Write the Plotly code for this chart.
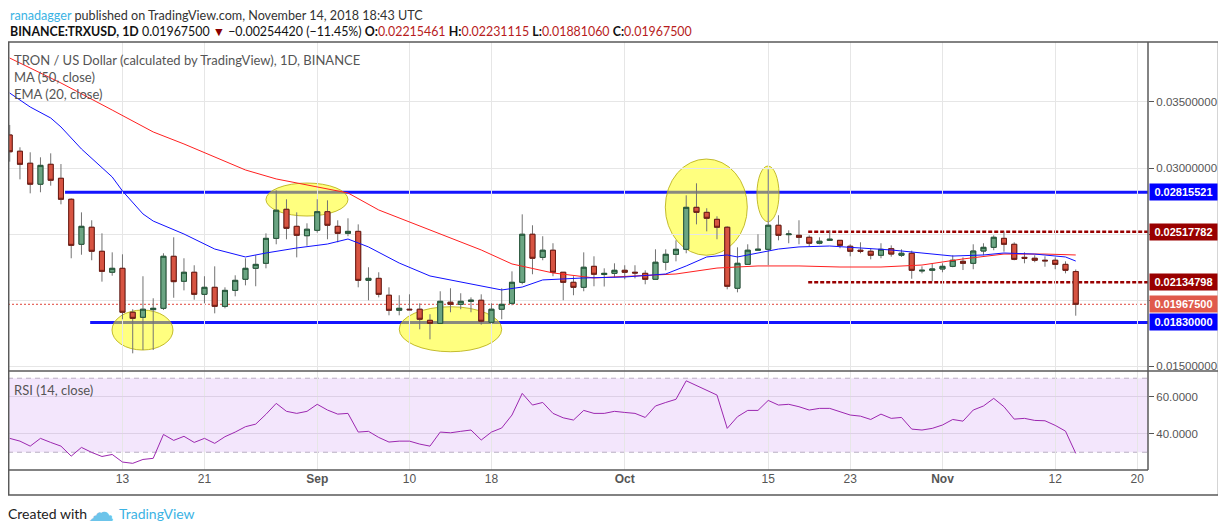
import pandas as pd
import plotly.graph_objects as go

# daily candles, 2 Aug -> 14 Nov 2018
dates = pd.date_range("2018-08-02", "2018-11-14", freq="D")

opens = [
    .03250, .03127, .03036, .02877, .03028, .02922, .02763, .02422, .02551, .02369,
    .02210, .02240, .01907, .01869, .01927, .01937, .02331, .02142, .02210, .02043,
    .02096, .01952, .02073, .02157, .02240, .02278, .02467, .02687, .02558, .02487,
    .02528, .02669, .02558, .02505, .02520, .02149, .02164, .02036, .01922, .01930,
    .01930, .01846, .01823, .01983, .01967, .01990, .01998, .01831, .01930, .01975,
    .02134, .02498, .02323, .02377, .02210, .02134, .02096, .02255, .02193, .02202,
    .02225, .02210, .02202, .02157, .02286, .02346, .02384, .02702, .02664, .02611,
    .02551, .02089, .02270, .02377, .02384, .02566, .02495, .02490, .02475, .02430,
    .02452, .02452, .02407, .02377, .02369, .02339, .02389, .02339, .02354, .02220,
    .02225, .02235, .02255, .02293, .02278, .02371, .02399, .02467, .02422, .02323,
    .02316, .02301, .02301, .02270, .02215461]
highs = [
    .03326, .03157, .03119, .03081, .03111, .03030, .02770, .02664, .02604, .02505,
    .02361, .02346, .01930, .02180, .02013, .02354, .02475, .02316, .02263, .02180,
    .02255, .02096, .02187, .02316, .02339, .02505, .02831, .02763, .02664, .02581,
    .02763, .02755, .02604, .02619, .02573, .02248, .02210, .02096, .02036, .02043,
    .01975, .01892, .02066, .02089, .02051, .02020, .02043, .01975, .02089, .02217,
    .02649, .02566, .02483, .02430, .02210, .02180, .02361, .02331, .02240, .02278,
    .02263, .02263, .02225, .02384, .02384, .02452, .02793, .02884, .02695, .02634,
    .02558, .02399, .02422, .02498, .02990, .02642, .02528, .02604, .02490, .02475,
    .02528, .02452, .02422, .02437, .02392, .02430, .02414, .02384, .02374, .02255,
    .02278, .02278, .02339, .02323, .02422, .02430, .02490, .02517, .02437, .02361,
    .02339, .02331, .02323, .02293, .02231115]
lows = [
    .03048, .02914, .02808, .02816, .02866, .02725, .02316, .02343, .02301, .02139,
    .02184, .01854, .01596, .01621, .01621, .01924, .02017, .02073, .02002, .01975,
    .01899, .01937, .02028, .02111, .02104, .02240, .02422, .02460, .02323, .02411,
    .02510, .02460, .02437, .02483, .02096, .01998, .02020, .01884, .01884, .01924,
    .01778, .01702, .01823, .01907, .01930, .01907, .01813, .01831, .01854, .01960,
    .02119, .02195, .02301, .02180, .01998, .02036, .02066, .02104, .02102, .02172,
    .02157, .02164, .02119, .02157, .02225, .02293, .02354, .02573, .02520, .02460,
    .02081, .02058, .02270, .02377, .02265, .02452, .02430, .02422, .02407, .02422,
    .02452, .02392, .02331, .02354, .02308, .02316, .02328, .02326, .02161, .02202,
    .02142, .02210, .02248, .02227, .02233, .02339, .02377, .02366, .02301, .02278,
    .02286, .02252, .02233, .02202, .0188106]
closes = [
    .03123, .03028, .02877, .03020, .02907, .02763, .02414, .02558, .02369, .02217,
    .02240, .01907, .01861, .01930, .01937, .02331, .02139, .02210, .02043, .02096,
    .01952, .02073, .02149, .02240, .02270, .02467, .02680, .02543, .02490, .02536,
    .02669, .02566, .02505, .02520, .02149, .02164, .02043, .01922, .01937, .01926,
    .01854, .01823, .01990, .01967, .01990, .01998, .01839, .01930, .01967, .02134,
    .02498, .02316, .02377, .02210, .02134, .02096, .02248, .02195, .02202, .02225,
    .02210, .02205, .02157, .02286, .02346, .02384, .02702, .02664, .02619, .02551,
    .02104, .02278, .02377, .02384, .02566, .02490, .02500, .02475, .02430, .02445,
    .02460, .02414, .02369, .02369, .02339, .02384, .02348, .02354, .02225, .02225,
    .02235, .02255, .02301, .02278, .02371, .02399, .02475, .02422, .02308, .02316,
    .02301, .02297, .02270, .02225, .019675]

rsi = [
    37.5, 36.0, 33.3, 37.5, 35.3, 33.3, 27.9, 32.6, 29.9, 27.7,
    28.8, 24.7, 24.0, 26.1, 26.7, 39.6, 36.4, 38.6, 35.3, 37.5,
    34.8, 38.4, 40.9, 43.8, 45.2, 50.5, 56.4, 52.1, 51.0, 52.1,
    55.9, 52.8, 50.6, 51.0, 40.9, 41.3, 38.0, 35.5, 36.0, 36.0,
    34.4, 33.3, 40.9, 40.5, 41.3, 42.0, 36.6, 40.9, 43.1, 50.1,
    61.8, 55.5, 56.9, 51.0, 48.6, 47.4, 52.6, 51.0, 51.0, 52.1,
    51.5, 51.0, 48.8, 55.0, 56.9, 58.6, 68.6, 66.1, 63.6, 60.9,
    42.9, 49.2, 52.6, 52.6, 58.0, 55.5, 55.9, 54.6, 52.8, 53.7,
    53.7, 51.9, 50.1, 49.5, 47.7, 50.6, 48.3, 48.8, 42.5, 42.0,
    42.9, 44.7, 47.7, 46.8, 52.8, 55.0, 59.1, 54.6, 47.9, 48.3,
    47.2, 47.0, 44.5, 41.4, 29.4]

# moving averages (day index from 2 Aug)
ma_days = [0, 5, 10, 14, 17, 20, 23, 26, 29, 33, 36, 40, 46, 49, 53, 57, 61, 65,
           69, 73, 77, 81, 85, 89, 93, 97, 101, 104]
ma50 = [.03833, .03644, .03439, .03273, .03182, .03083, .02985, .02917, .02871,
        .02811, .02682, .02561, .02379, .02273, .02205, .02167, .02182, .02197,
        .02242, .02258, .02258, .02250, .02250, .02265, .02311, .02348, .02348, .02341]
ema_days = [0, 1, 2, 4, 5, 7, 10, 11, 13, 14, 17, 20, 23, 25, 28, 31, 33, 35, 38,
            41, 45, 48, 50, 52, 56, 60, 64, 66, 68, 70, 71, 73, 75, 77, 80, 83, 86,
            89, 92, 95, 97, 100, 102, 103, 104]
ema20 = [.03568, .03515, .03462, .03379, .03311, .03144, .02932, .02826, .02652,
         .02598, .02500, .02386, .02326, .02356, .02394, .02424, .02462, .02402,
         .02280, .02182, .02121, .02076, .02098, .02152, .02167, .02174, .02197,
         .02258, .02326, .02341, .02326, .02356, .02386, .02402, .02409, .02394,
         .02379, .02356, .02333, .02341, .02356, .02348, .02333, .02326, .02295]

# drawn levels
support_res = [0.02815521, 0.01830000]
support_start = ["2018-08-07 09:36", "2018-08-09 20:24"]
dashed_levels = [0.02517782, 0.02134798]
dashed_start = "2018-10-18 21:36"
last_price = 0.01967500

# highlighted zones (ellipses)
zone_start = ["2018-08-11 23:30", "2018-08-27 00:00", "2018-09-09 00:00", "2018-10-04 23:00", "2018-10-13 21:36"]
zone_end = ["2018-08-17 22:20", "2018-09-04 00:00", "2018-09-19 00:00", "2018-10-12 23:00", "2018-10-16 01:12"]
zone_low = [0.01621, 0.02636, 0.01608, 0.02339, 0.02593]
zone_high = [0.01924, 0.02886, 0.01949, 0.03068, 0.03015]

x_start, x_end = "2018-08-01 20:00", "2018-11-21 01:12"
tick_dates = ["2018-08-13", "2018-08-21", "2018-09-01", "2018-09-10", "2018-09-18", "2018-10-01",
              "2018-10-15", "2018-10-23", "2018-11-01", "2018-11-12", "2018-11-20"]
tick_text = ["13", "21", "<b>Sep</b>", "10", "18", "<b>Oct</b>", "15", "23", "<b>Nov</b>", "12", "20"]

UP, UP_LINE = "#6BA583", "#225437"
DN, DN_LINE = "#D75442", "#6D1A12"
WICK = "#737373"
GRID = "#E6E6E6"
TXT = "#555555"

# page has an 8px body margin, so the figure is drawn 8px smaller
OFF = 8
W, H = 1226 - OFF, 532 - OFF
L_PX, R_PX, T_PX, B_PX = 8, 1148, 42, 470   # plot box in screenshot pixels
SPLIT = 371


def px(xp):
    return (xp - L_PX) / (R_PX - L_PX)


def py(yp):
    return (B_PX - yp) / (B_PX - T_PX)


fig = go.Figure()

# MA / EMA
fig.add_trace(go.Scatter(x=[dates[d] for d in ma_days], y=ma50, mode="lines",
                         line=dict(color="#FF2020", width=1), xaxis="x", yaxis="y"))
fig.add_trace(go.Scatter(x=[dates[d] for d in ema_days], y=ema20, mode="lines",
                         line=dict(color="#1010FF", width=1), xaxis="x", yaxis="y"))

# wicks
fig.add_trace(go.Candlestick(x=dates, open=opens, high=highs, low=lows, close=closes,
                             increasing=dict(fillcolor=UP, line=dict(color=WICK, width=1)),
                             decreasing=dict(fillcolor=DN, line=dict(color=WICK, width=1)),
                             whiskerwidth=0, xaxis="x", yaxis="y"))
# bodies with dark outline
body_hi = [max(o, c) for o, c in zip(opens, closes)]
body_lo = [min(o, c) for o, c in zip(opens, closes)]
fig.add_trace(go.Candlestick(x=dates, open=opens, high=body_hi, low=body_lo, close=closes,
                             increasing=dict(fillcolor=UP, line=dict(color=UP_LINE, width=1)),
                             decreasing=dict(fillcolor=DN, line=dict(color=DN_LINE, width=1)),
                             whiskerwidth=0, xaxis="x", yaxis="y"))

# RSI
fig.add_trace(go.Scatter(x=dates, y=rsi, mode="lines", line=dict(color="#9C27B0", width=1),
                         xaxis="x", yaxis="y2"))

shapes = []
# RSI band
shapes.append(dict(type="rect", xref="paper", yref="y2", x0=0, x1=1, y0=30, y1=70,
                   fillcolor="#F3E6FC", line_width=0, layer="below"))
for lv in (30, 70):
    shapes.append(dict(type="line", xref="paper", yref="y2", x0=0, x1=1, y0=lv, y1=lv,
                       line=dict(color="#B9AEC2", width=1, dash="5px,4px"), layer="below"))
# blue support / resistance
for lv, st in zip(support_res, support_start):
    shapes.append(dict(type="line", xref="x", yref="y", x0=st, x1=x_end, y0=lv, y1=lv,
                       line=dict(color="#1414FF", width=3), layer="below"))
# red dashed levels
for lv in dashed_levels:
    shapes.append(dict(type="line", xref="x", yref="y", x0=dashed_start, x1=x_end, y0=lv, y1=lv,
                       line=dict(color="#990000", width=2.5, dash="4px,2px"), layer="below"))
# last price line
shapes.append(dict(type="line", xref="paper", yref="y", x0=0, x1=1, y0=last_price, y1=last_price,
                   line=dict(color="#E0443A", width=1, dash="2px,2px"), layer="below"))
# yellow zones
for a, b, lo, hi in zip(zone_start, zone_end, zone_low, zone_high):
    shapes.append(dict(type="circle", xref="x", yref="y", x0=a, x1=b, y0=lo, y1=hi,
                       fillcolor="rgba(255,255,0,0.5)", line=dict(color="rgba(185,175,20,0.85)", width=1),
                       layer="below"))
# frame
frame = "#5A5A5A"
shapes.append(dict(type="rect", xref="paper", yref="paper", x0=px(8.7), x1=px(1218.5), y0=py(495), y1=py(42),
                   line=dict(color=frame, width=1.5)))
shapes.append(dict(type="line", xref="paper", yref="paper", x0=px(8), x1=px(1219), y0=py(SPLIT), y1=py(SPLIT),
                   line=dict(color=frame, width=1.5)))
shapes.append(dict(type="line", xref="paper", yref="paper", x0=1, x1=1, y0=0, y1=1,
                   line=dict(color=frame, width=1.5)))
shapes.append(dict(type="line", xref="paper", yref="paper", x0=0, x1=1, y0=0, y1=0,
                   line=dict(color=frame, width=1.5)))

ann = []
head_font = dict(family="Lato", size=12.6, color="#333333")
ann.append(dict(xref="paper", yref="paper", x=px(8), y=py(15.5), xanchor="left", yanchor="middle",
                text="<span style='color:#3BB3E4'>ranadagger</span> published on TradingView.com, November 14, 2018 18:43 UTC",
                showarrow=False, font=head_font))
red_val = "<span style='color:#B71C1C'>%s</span>"
line2 = ("<b>BINANCE:TRXUSD, 1D</b> 0.01967500 <span style='color:#8B0000'>▼</span> −0.00254420 (−11.45%) "
         "<b>O:</b>" + red_val % "0.02215461" + " <b>H:</b>" + red_val % "0.02231115" +
         " <b>L:</b>" + red_val % "0.01881060" + " <b>C:</b>" + red_val % "0.01967500")
ann.append(dict(xref="paper", yref="paper", x=px(8), y=py(32), xanchor="left", yanchor="middle",
                text=line2, showarrow=False, font=dict(family="Lato", size=12.4, color="#111111")))
leg_font = dict(family="Lato", size=13, color=TXT)
for txt, yy in [("TRON / US Dollar (calculated by TradingView), 1D, BINANCE", 60),
                ("MA (50, close)", 77), ("EMA (20, close)", 94), ("RSI (14, close)", 390)]:
    ann.append(dict(xref="paper", yref="paper", x=px(12), y=py(yy), xanchor="left", yanchor="middle",
                    text=txt, showarrow=False, font=leg_font))
# price boxes
boxes = [(support_res[0], "#0000FF"), (dashed_levels[0], "#990000"), (dashed_levels[1], "#990000"),
         (last_price, "#E05A4C"), (support_res[1], "#0000FF")]
for val, col in boxes:
    ann.append(dict(xref="paper", yref="y", x=px(1149), y=val, xanchor="left", yanchor="middle",
                    text="<b>%.8f</b>" % val, showarrow=False, bgcolor=col, borderpad=2,
                    width=63, height=12, align="center",
                    font=dict(family="Liberation Sans", size=11, color="white")))
# footer
ann.append(dict(xref="paper", yref="paper", x=px(6), y=py(514), xanchor="left", yanchor="middle",
                text="Created with", showarrow=False, font=dict(family="Lato", size=14, color="#222222")))
ann.append(dict(xref="paper", yref="paper", x=px(86), y=py(512), xanchor="left", yanchor="middle",
                text="☁", showarrow=False, font=dict(family="DejaVu Sans", size=26, color="#6CC4EA")))
ann.append(dict(xref="paper", yref="paper", x=px(117), y=py(514), xanchor="left", yanchor="middle",
                text="TradingView", showarrow=False, font=dict(family="Lato", size=14, color="#3BB3E4")))

split_frac = py(SPLIT)
fig.update_layout(
    width=W, height=H,
    margin=dict(l=L_PX - OFF, r=W - (R_PX - OFF), t=T_PX - OFF, b=H - (B_PX - OFF)),
    paper_bgcolor="white", plot_bgcolor="white",
    showlegend=False, hovermode=False,
    shapes=shapes, annotations=ann,
    xaxis=dict(type="date", range=[x_start, x_end], anchor="y2", domain=[0, 1],
               tickvals=tick_dates, ticktext=tick_text, showgrid=True, gridcolor=GRID,
               ticks="", showline=False, zeroline=False, rangeslider=dict(visible=False),
               tickfont=dict(family="Liberation Sans", size=12, color=TXT)),
    yaxis=dict(domain=[split_frac, 1], range=[0.014621, 0.039545], side="right", anchor="x",
               tickvals=[0.015, 0.020, 0.025, 0.030, 0.035],
               ticktext=["0.01500000", "", "", "0.03000000", "0.03500000"],
               showgrid=True, gridcolor=GRID, zeroline=False, ticks="outside", ticklen=5,
               tickcolor=TXT, tickfont=dict(family="Liberation Sans", size=11.5, color=TXT)),
    yaxis2=dict(domain=[0, split_frac], range=[20.4, 73.9], side="right", anchor="x",
                tickvals=[40, 60], ticktext=["40.0000", "60.0000"],
                showgrid=True, gridcolor="#DDD0E6", zeroline=False, ticks="outside", ticklen=5,
                tickcolor=TXT, tickfont=dict(family="Liberation Sans", size=11.5, color=TXT)),
)

fig.write_html("out.html")
